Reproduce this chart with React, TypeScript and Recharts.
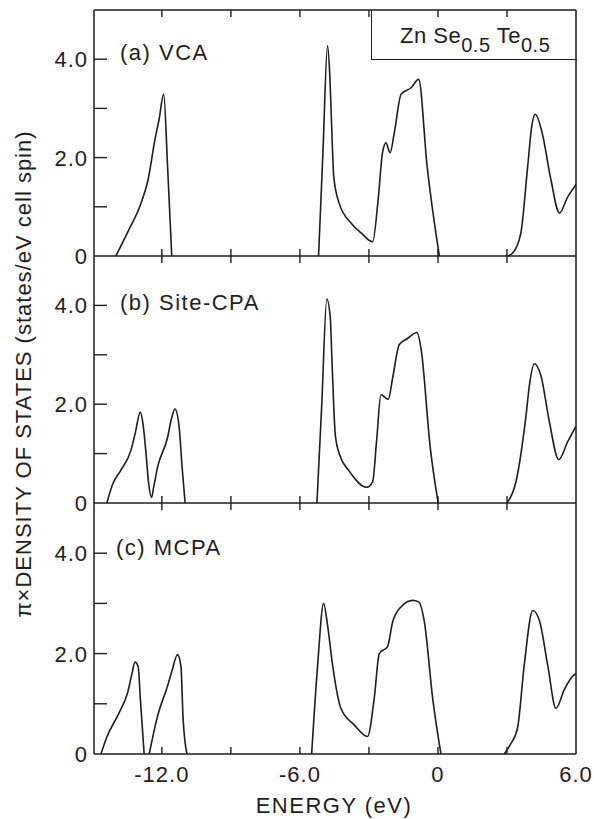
import React from "react";
import { LineChart, Line, XAxis, YAxis } from "recharts";

/* ── palette / type ── */
const INK = "#1e1e1e";
const FONT = "'Liberation Sans', Arial, sans-serif";

/* ── axes ── */
const X_MIN = -14.95;
const X_MAX = 6;
const xTicks = [-12, -9, -6, -3, 0, 3, 6];
const xTickLabels = ["-12.0", "", "-6.0", "", "0", "", "6.0"];
const yTicks = [0, 1, 2, 3, 4];
const yTickLabels = ["0", "", "2.0", "", "4.0"];
const yRightTicks = [1, 2, 3, 4];

/* ── data: [energy eV, pi x DOS] ── */
// (a) VCA
const vcaCore = [
  [-14.0, 0], [-13.5, 0.47], [-12.9, 1.08], [-12.6, 1.55], [-12.3, 2.37],
  [-12.12, 2.78], [-11.92, 3.29], [-11.75, 1.8], [-11.57, 0],
];
const vcaValence = [
  [-5.19, 0], [-5.0, 2.1], [-4.8, 4.27], [-4.7, 3.66], [-4.62, 2.64],
  [-4.53, 1.62], [-4.3, 1.08], [-3.78, 0.67], [-3.3, 0.45], [-2.84, 0.29],
  [-2.6, 1.14], [-2.41, 2.1], [-2.26, 2.3], [-2.08, 2.1], [-1.9, 2.5],
  [-1.6, 3.29], [-1.17, 3.42], [-0.84, 3.59], [-0.47, 1.82], [0.06, 0],
];
const vcaConduction = [
  [3.03, 0], [3.25, 0.06], [3.6, 0.46], [3.9, 1.82], [4.08, 2.65],
  [4.23, 2.88], [4.53, 2.5], [4.91, 1.55], [5.28, 0.87], [5.64, 1.2], [6.0, 1.45],
];
// (b) Site-CPA
const scpaCore = [
  [-14.39, 0], [-14.14, 0.38], [-13.8, 0.65], [-13.35, 1.06], [-13.15, 1.43],
  [-12.94, 1.84], [-12.82, 1.6], [-12.7, 1.06], [-12.57, 0.38], [-12.45, 0.11],
  [-12.36, 0.31], [-12.19, 0.72], [-11.75, 1.33], [-11.6, 1.67], [-11.43, 1.9],
  [-11.25, 1.54], [-11.12, 0.72], [-10.99, 0],
];
const scpaValence = [
  [-5.26, 0], [-5.05, 2.0], [-4.83, 4.13], [-4.68, 3.75], [-4.6, 2.8],
  [-4.46, 1.37], [-4.27, 0.97], [-3.88, 0.66], [-3.09, 0.32], [-2.84, 0.43],
  [-2.66, 1.3], [-2.48, 2.19], [-2.16, 2.1], [-1.97, 2.53], [-1.68, 3.21],
  [-1.32, 3.33], [-0.91, 3.45], [-0.74, 3.14], [-0.33, 1.1], [0.01, 0],
];
const scpaConduction = [
  [3.0, 0], [3.39, 0.43], [3.83, 1.78], [3.98, 2.4], [4.19, 2.82],
  [4.48, 2.57], [4.84, 1.65], [5.25, 0.88], [5.64, 1.24], [6.0, 1.55],
];
// (c) MCPA
const mcpaCore1 = [
  [-14.65, 0], [-14.39, 0.34], [-13.86, 0.82], [-13.49, 1.22], [-13.3, 1.6],
  [-13.17, 1.83], [-13.03, 1.74], [-12.93, 1.06], [-12.77, 0],
];
const mcpaCore2 = [
  [-12.55, 0], [-12.19, 0.75], [-11.75, 1.36], [-11.56, 1.66], [-11.32, 1.98],
  [-11.17, 1.74], [-11.08, 0.73], [-10.91, 0],
];
const mcpaValence = [
  [-5.49, 0], [-5.23, 1.77], [-4.97, 3.0], [-4.8, 2.57], [-4.58, 1.77],
  [-4.22, 0.91], [-3.64, 0.58], [-3.06, 0.35], [-2.77, 1.11], [-2.55, 2.0],
  [-2.19, 2.14], [-1.97, 2.63], [-1.61, 2.93], [-1.1, 3.06], [-0.84, 3.03],
  [-0.59, 2.63], [-0.23, 1.11], [0.13, 0],
];
const mcpaConduction = [
  [2.88, 0], [3.15, 0.19], [3.46, 0.52], [3.75, 1.77], [4.12, 2.86],
  [4.41, 2.66], [4.77, 1.77], [5.13, 0.91], [5.49, 1.28], [5.9, 1.57], [6.0, 1.6],
];

const pts = (a: number[][]) => a.map(([e, v]) => ({ e, v }));

/* ── tick renderers ── */
const xTick = (mode: "cross" | "up" | "down", withLabel: boolean) => (p: any) => {
  const { x, y, payload } = p;
  const i = xTicks.indexOf(payload.value);
  const lab = withLabel ? xTickLabels[i] : "";
  const y1 = mode === "down" ? y : y - 7;
  const y2 = mode === "up" ? y : y + 7;
  return (
    <g>
      {payload.value !== X_MAX && (
        <line x1={x} x2={x} y1={y1} y2={y2} stroke={INK} strokeWidth={1.4} />
      )}
      {lab && (
        <text x={x} y={y + 28} textAnchor="middle" fontFamily={FONT} fontSize={22}
          letterSpacing={1} fill={INK}>{lab}</text>
      )}
    </g>
  );
};

const yTickLeft = (p: any) => {
  const { x, y, payload } = p;
  const lab = yTickLabels[yTicks.indexOf(payload.value)];
  return (
    <g>
      {payload.value !== 0 && (
        <line x1={x} x2={x + 13} y1={y} y2={y} stroke={INK} strokeWidth={1.4} />
      )}
      {lab && (
        <text x={x - 6} y={y} dy="0.36em" textAnchor="end" fontFamily={FONT}
          fontSize={22} letterSpacing={1} fill={INK}>{lab}</text>
      )}
    </g>
  );
};

const yTickRight = (p: any) => {
  const { x, y } = p;
  return <line x1={x} x2={x - 11} y1={y} y2={y} stroke={INK} strokeWidth={1.4} />;
};

/* ── one panel ── */
const Panel = ({ top, bottom, segs, first, last }: any) => (
  <div style={{ position: "absolute", left: 0, top: 0 }}>
    <LineChart
      width={594}
      height={819}
      margin={{ top: first ? top - 10 : top, right: 0, left: 34, bottom: 819 - bottom - 20 }}
    >
      {first && (
        <XAxis xAxisId="top" orientation="top" type="number" dataKey="e"
          domain={[X_MIN, X_MAX]} allowDataOverflow ticks={xTicks.slice(0, 6)}
          interval={0} height={10} tickSize={0} tickMargin={0} tickLine={false}
          axisLine={{ stroke: INK, strokeWidth: 1.5 }} tick={xTick("down", false)} />
      )}
      <XAxis type="number" dataKey="e" domain={[X_MIN, X_MAX]} allowDataOverflow
        ticks={last ? xTicks : xTicks.slice(0, 6)} interval={0} height={20}
        tickSize={0} tickMargin={0} tickLine={false}
        axisLine={{ stroke: INK, strokeWidth: 1.5 }}
        tick={xTick(last ? "up" : "cross", last)} />
      <YAxis type="number" domain={[0, 5]} ticks={yTicks} interval={0} width={60}
        tickSize={0} tickMargin={0} tickLine={false}
        axisLine={{ stroke: INK, strokeWidth: 1.5 }} tick={yTickLeft} />
      <YAxis yAxisId="r" orientation="right" type="number" domain={[0, 5]}
        ticks={yRightTicks} interval={0} width={18} tickSize={0} tickMargin={0}
        tickLine={false} axisLine={{ stroke: INK, strokeWidth: 1.5 }} tick={yTickRight} />
      {segs.map((s: number[][], i: number) => (
        <Line key={i} data={pts(s)} dataKey="v" type="monotone" stroke={INK}
          strokeWidth={1.6} dot={false} activeDot={false} isAnimationActive={false} />
      ))}
    </LineChart>
  </div>
);

const txt: React.CSSProperties = {
  position: "absolute",
  fontFamily: FONT,
  fontSize: 22,
  lineHeight: "22px",
  letterSpacing: 1.5,
  color: INK,
  whiteSpace: "nowrap",
};

export default function App() {
  return (
    <div style={{ position: "absolute", left: 0, top: 0, width: 594, height: 819, background: "#fff" }}>
      <Panel top={10} bottom={256} first segs={[vcaCore, vcaValence, vcaConduction]} />
      <Panel top={256} bottom={503} segs={[scpaCore, scpaValence, scpaConduction]} />
      <Panel top={503} bottom={754} last segs={[mcpaCore1, mcpaCore2, mcpaValence, mcpaConduction]} />

      <div style={{ ...txt, left: 120, top: 42 }}>(a) VCA</div>
      <div style={{ ...txt, left: 120, top: 292 }}>(b) Site-CPA</div>
      <div style={{ ...txt, left: 116, top: 537 }}>(c) MCPA</div>

      <div style={{
        position: "absolute", left: 371, top: 10, width: 205, height: 49,
        borderLeft: `1.5px solid ${INK}`, borderBottom: `1.5px solid ${INK}`,
      }} />
      <div style={{ ...txt, left: 400, top: 25, letterSpacing: 0.5 }}>
        Zn Se<span style={{ position: "relative", top: 9, fontSize: 20 }}>0.5</span>
        {" "}Te<span style={{ position: "relative", top: 9, fontSize: 20 }}>0.5</span>
      </div>

      <div style={{ ...txt, left: 334, top: 795, transform: "translateX(-50%)" }}>ENERGY (eV)</div>
      <div style={{
        ...txt, left: 24, top: 374, letterSpacing: 1,
        transform: "translate(-50%, -50%) rotate(-90deg)",
      }}>π×DENSITY OF STATES (states/eV cell spin)</div>
    </div>
  );
}
